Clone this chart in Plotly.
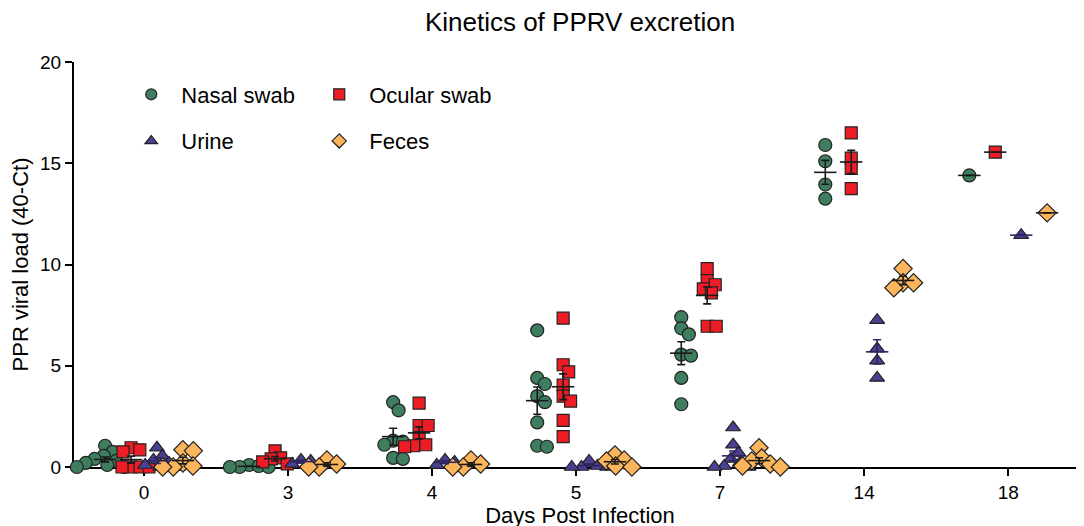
import numpy as np
import plotly.graph_objects as go

# x categories (days post infection)
DAYS = ['0', '3', '4', '5', '7', '14', '18']
SERIES = ['Nasal swab', 'Ocular swab', 'Urine', 'Feces']

# PPR viral load (40-Ct) per animal, one list per day
nasal = [
    [1.05, 0.75, 0.55, 0.4, 0.3, 0.2, 0.1, 0.0, 0.0],
    [0.1, 0.05, 0.0, 0.0, 0.0],
    [3.2, 2.8, 1.3, 1.25, 1.1, 0.45, 0.4],
    [6.75, 4.4, 4.1, 3.5, 3.2, 2.2, 1.05, 1.0],
    [7.4, 6.85, 6.55, 5.55, 5.5, 4.4, 3.1],
    [15.9, 15.1, 13.95, 13.25],
    [14.4],
]
ocular = [
    [0.95, 0.85, 0.75, 0.0, 0.0, 0.0, 0.0],
    [0.8, 0.45, 0.4, 0.25, 0.15],
    [3.15, 2.05, 2.05, 1.4, 1.1, 1.05, 1.0],
    [7.35, 5.05, 4.7, 4.05, 3.5, 3.25, 2.3, 1.5],
    [9.8, 9.2, 9.0, 8.8, 8.6, 6.95, 6.95],
    [16.5, 15.25, 14.75, 13.75],
    [15.55],
]
urine = [
    [0.95, 0.55, 0.35, 0.2, 0.1, 0.0, 0.0],
    [0.35, 0.3, 0.15],
    [0.35, 0.25, 0.1],
    [0.3, 0.05, 0.0, 0.0, 0.0],
    [1.95, 1.1, 0.7, 0.4, 0.2, 0.05, 0.0, 0.0],
    [7.25, 5.85, 5.25, 4.4],
    [11.45],
]
feces = [
    [0.85, 0.8, 0.2, 0.05, 0.0, 0.0],
    [0.35, 0.15, 0.0, 0.0],
    [0.35, 0.15, 0.0, 0.0],
    [0.6, 0.35, 0.3, 0.05, 0.0],
    [0.95, 0.45, 0.3, 0.15, 0.05, 0.0],
    [9.8, 9.1, 9.1, 8.85],
    [12.55],
]

COLORS = ['#3e7d5e', '#ee1c25', '#4a3f91', '#fdb55c']
SYMBOLS = ['circle', 'square', 'triangle-up', 'diamond']
SIZES = [13, 12, 13, 14]
BAR_COLORS = ['#1a1a1a', '#1a1a1a', '#2d2660', '#1a1a1a']
GROUP_SHIFT = [-0.27, -0.09, 0.09, 0.27]

PX_X = 144.0   # pixels per category
PX_Y = 20.3    # pixels per y unit


def swarm(values, d):
    '''sideways offsets (in px) so that markers of diameter d do not pile up'''
    placed = []
    offs = [0.0] * len(values)
    order = sorted(range(len(values)), key=lambda i: -values[i])
    for i in order:
        vy = values[i] * PX_Y
        cands = [0.0]
        for ox, oy in placed:
            dy = abs(vy - oy)
            if dy < d:
                w = np.sqrt(d * d - dy * dy)
                cands += [ox + w, ox - w]
        best = None
        for c in sorted(cands, key=abs):
            if all((c - ox) ** 2 + (vy - oy) ** 2 >= d * d * 0.999 for ox, oy in placed):
                best = c
                break
        placed.append((best, vy))
        offs[i] = best
    return offs


fig = go.Figure()
data = [nasal, ocular, urine, feces]

for s, name in enumerate(SERIES):
    xs, ys = [], []
    for k, vals in enumerate(data[s]):
        offs = swarm(vals, SIZES[s] * 0.75)
        for v, o in zip(vals, offs):
            xs.append(k + GROUP_SHIFT[s] + o / PX_X)
            ys.append(v)
    fig.add_trace(go.Scatter(x=xs, y=ys, mode='markers', name=name, showlegend=False,
                             cliponaxis=False,
                             marker=dict(symbol=SYMBOLS[s], size=SIZES[s], color=COLORS[s],
                                         line=dict(color='#222222', width=1.2))))

# mean +- SEM
for s, name in enumerate(SERIES):
    mx, my, me = [], [], []
    for k, vals in enumerate(data[s]):
        a = np.array(vals)
        mx.append(k + GROUP_SHIFT[s])
        my.append(a.mean())
        me.append(a.std(ddof=1) / np.sqrt(len(a)) if len(a) > 1 else 0)
    fig.add_trace(go.Scatter(x=mx, y=my, mode='markers', showlegend=False, cliponaxis=False,
                             marker=dict(symbol='line-ew', size=16,
                                         line=dict(color=BAR_COLORS[s], width=1.6)),
                             error_y=dict(type='data', array=me, visible=True,
                                          color=BAR_COLORS[s], thickness=1.6, width=4)))

# legend entries (smaller markers than the data)
for s, name in enumerate(SERIES):
    fig.add_trace(go.Scatter(x=[None], y=[None], mode='markers', name=name,
                             legend='legend' if s < 2 else 'legend2',
                             marker=dict(symbol=SYMBOLS[s], size=11, color=COLORS[s],
                                         line=dict(color='#222222', width=1.2))))

axis_style = dict(showline=True, linecolor='black', linewidth=2, ticks='outside',
                  ticklen=7, tickwidth=2, tickcolor='black', showgrid=False,
                  zeroline=False, layer='below traces', automargin=False,
                  tickfont=dict(size=19, color='black'))

leg = dict(orientation='h', xanchor='left', yanchor='middle', itemwidth=50,
           entrywidth=123, entrywidthmode='pixels', bgcolor='rgba(0,0,0,0)',
           font=dict(size=22, color='black'), itemclick=False)

fig.update_layout(
    width=1084, height=526,
    template='plotly_white',
    plot_bgcolor='white', paper_bgcolor='white',
    font=dict(family='Liberation Sans, Arial, sans-serif', color='black'),
    title=dict(text='Kinetics of PPRV excretion', x=0.5, xref='paper', y=0.9734,
               yanchor='middle', font=dict(size=26)),
    margin=dict(l=66, r=6, t=54, b=67, autoexpand=False),
    xaxis=dict(range=[-0.486, 6.54], tickvals=list(range(len(DAYS))), ticktext=DAYS,
               title=dict(text='Days Post Infection', font=dict(size=22), standoff=4),
               **axis_style),
    yaxis=dict(range=[0, 20], tickvals=[0, 5, 10, 15, 20],
               title=dict(text='PPR viral load (40-Ct)', font=dict(size=22), standoff=10),
               **axis_style),
    legend=dict(x=0.0467, y=0.9198, **leg),
    legend2=dict(x=0.0467, y=0.8047, **leg),
)

fig.write_html("out.html")
